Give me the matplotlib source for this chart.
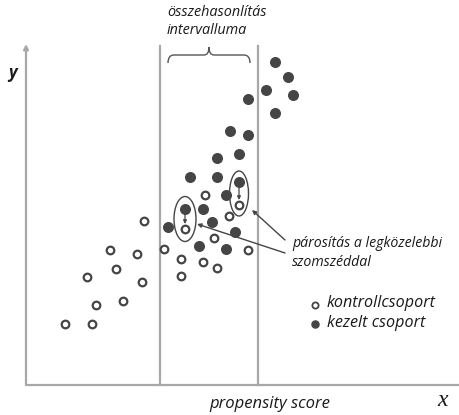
import matplotlib
matplotlib.use('Agg')
from matplotlib import pyplot as plt
from matplotlib.patches import Ellipse, PathPatch
from matplotlib.path import Path

# kezelt csoport (filled)
treated_x = [249, 262, 240, 267, 222, 249, 204, 222, 191, 213, 164, 191, 213,
             200, 159, 177, 186, 142, 209, 173, 200]
treated_y = [323, 308, 295, 290, 286, 272, 254, 250, 227, 231, 208, 208, 203,
             190, 176, 176, 163, 158, 153, 139, 136]

# kontrollcsoport (open)
control_x = [179, 213, 203, 118, 159, 188, 84, 111, 138, 155, 177, 222, 191,
             90, 61, 155, 116, 70, 97, 39, 66]
control_y = [190, 180, 169, 164, 156, 147, 135, 131, 136, 126, 123, 135, 117,
             116, 108, 109, 103, 80, 84, 61, 61]

# comparison interval borders and matched pairs
interval = [134, 232]
pairs = [((159, 176), (159, 156)), ((213, 203), (213, 180))]

dark = '#454545'
axis_col = '#a8a8a8'
txt_col = '#1a1a1a'
font = 'Open Sans'

fig = plt.figure(figsize=(4.59, 4.15), dpi=100)
ax = fig.add_axes([0, 0, 1, 1])
ax.set_xlim(-26, 433)
ax.set_ylim(-30, 385)
ax.axis('off')

# axes
ax.plot([0, 433], [0, 0], color=axis_col, lw=1.6, solid_capstyle='butt')
ax.annotate('', xy=(0, 341), xytext=(0, 0),
            arrowprops=dict(arrowstyle='-|>', color=axis_col, lw=1.6,
                            mutation_scale=7, shrinkA=0, shrinkB=0))
for xv in interval:
    ax.plot([xv, xv], [0, 339], color=axis_col, lw=1.6)

# points
ax.scatter(control_x, control_y, s=30, facecolor='white', edgecolor=dark,
           linewidth=1.6, zorder=3)
ax.scatter(treated_x, treated_y, s=48, color=dark, zorder=3)

# matched pairs
for (p1, p2) in pairs:
    cx = p1[0]
    cy = (p1[1] + p2[1]) / 2
    ax.add_patch(Ellipse((cx, cy), 22 if cx < 200 else 19, 45, fill=False,
                         edgecolor=dark, lw=1.0, zorder=2))
    ax.annotate('', xy=(p2[0], p2[1] + 5), xytext=(p1[0], p1[1] - 5),
                arrowprops=dict(arrowstyle='-|>', color=dark, lw=0.9,
                                mutation_scale=5, shrinkA=0, shrinkB=0))

# pointers to the ellipses
ax.annotate('', xy=(226, 175), xytext=(259, 145),
            arrowprops=dict(arrowstyle='-|>', color=dark, lw=1.0,
                            mutation_scale=6, shrinkA=0, shrinkB=0))
ax.annotate('', xy=(171, 161), xytext=(259, 132),
            arrowprops=dict(arrowstyle='-|>', color=dark, lw=1.0,
                            mutation_scale=6, shrinkA=0, shrinkB=0))

# brace
x0, x1 = 142, 224
xm = (x0 + x1) / 2
verts = [(x0, 322), (x0, 330), (x0 + 6, 330),
         (xm - 5, 330), (xm, 330), (xm, 338),
         (xm, 330), (xm + 5, 330),
         (x1 - 6, 330), (x1, 330), (x1, 322)]
codes = [Path.MOVETO, Path.CURVE3, Path.CURVE3,
         Path.LINETO, Path.CURVE3, Path.CURVE3,
         Path.CURVE3, Path.CURVE3,
         Path.LINETO, Path.CURVE3, Path.CURVE3]
ax.add_patch(PathPatch(Path(verts, codes), fill=False, edgecolor='#555555', lw=1.0))

# texts
ax.text(141, 373, 'összehasonlítás', fontsize=10.4, style='italic', family=font,
        color=txt_col, va='center', ha='left')
ax.text(141, 354, 'intervalluma', fontsize=10.4, style='italic', family=font,
        color=txt_col, va='center', ha='left')
ax.text(266, 142, 'párosítás a legközelebbi', fontsize=10.2, style='italic',
        family=font, color=txt_col, va='center', ha='left')
ax.text(266, 123, 'szomszéddal', fontsize=10.2, style='italic', family=font,
        color=txt_col, va='center', ha='left')

ax.scatter([289], [80], s=20, facecolor='white', edgecolor=dark, linewidth=1.3)
ax.scatter([289], [61], s=26, color=dark)
ax.text(301, 82, 'kontrollcsoport', fontsize=11.6, style='italic', family=font,
        color=txt_col, va='center', ha='left')
ax.text(301, 62, 'kezelt csoport', fontsize=11.6, style='italic', family=font,
        color=txt_col, va='center', ha='left')

ax.text(244, -19, 'propensity score', fontsize=12, style='italic', family=font,
        color=txt_col, va='center', ha='center')
ax.text(-14, 312, 'y', fontsize=12, style='italic', weight='bold', family=font,
        color=txt_col, va='center', ha='center')
ax.text(417, -15, 'x', fontsize=17, style='italic', family='Liberation Serif',
        color=txt_col, va='center', ha='center')

fig.savefig('out.png', dpi=100)
